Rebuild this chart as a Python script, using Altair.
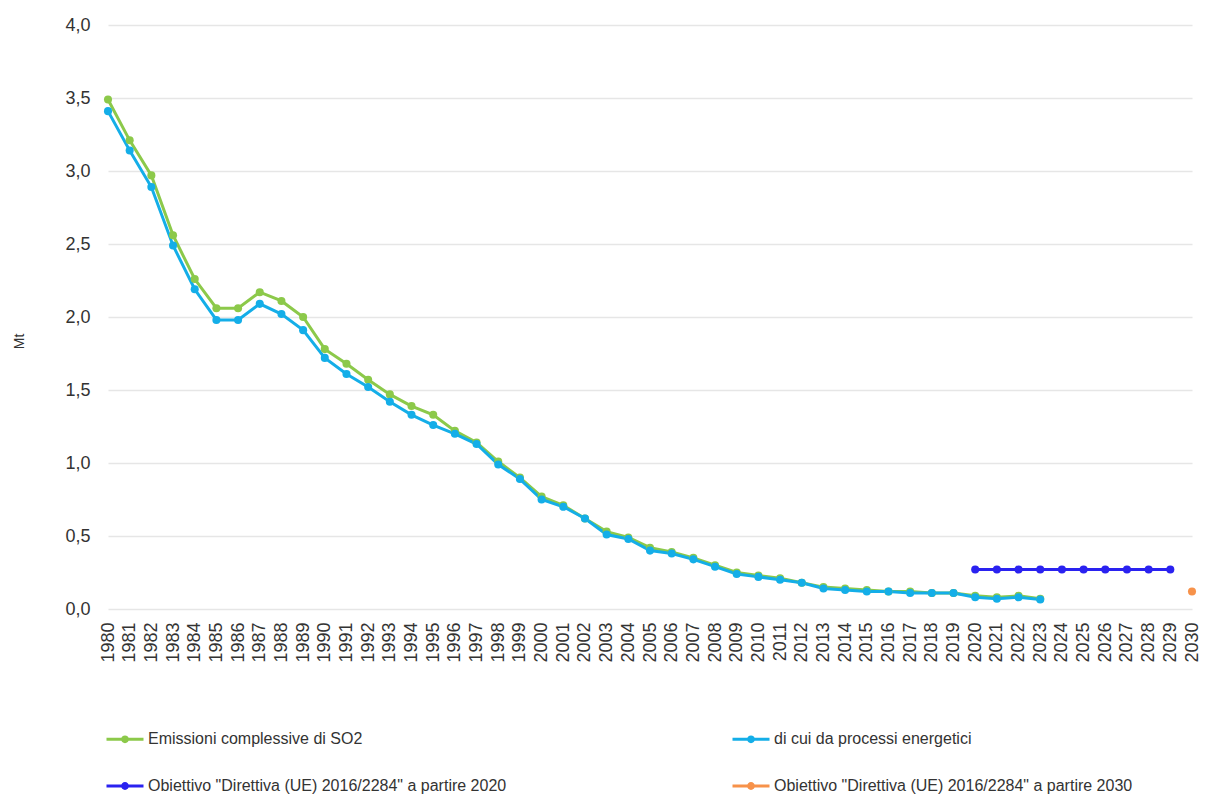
import altair as alt
import pandas as pd

years = [str(y) for y in range(1980, 2031)]

hist_years = [str(y) for y in range(1980, 2024)]
totale = [3.49, 3.21, 2.97, 2.56, 2.26, 2.06, 2.06, 2.17, 2.11, 2.00,
          1.78, 1.68, 1.57, 1.47, 1.39, 1.33, 1.22, 1.14, 1.01, 0.90,
          0.77, 0.71, 0.62, 0.53, 0.49, 0.42, 0.39, 0.35, 0.30, 0.25,
          0.23, 0.21, 0.18, 0.15, 0.14, 0.13, 0.12, 0.12, 0.11, 0.11,
          0.09, 0.08, 0.09, 0.07]
energetici = [3.41, 3.14, 2.89, 2.49, 2.19, 1.98, 1.98, 2.09, 2.02, 1.91,
              1.72, 1.61, 1.52, 1.42, 1.33, 1.26, 1.20, 1.13, 0.99, 0.89,
              0.75, 0.70, 0.62, 0.51, 0.48, 0.40, 0.38, 0.34, 0.29, 0.24,
              0.22, 0.20, 0.18, 0.14, 0.13, 0.12, 0.12, 0.11, 0.11, 0.11,
              0.08, 0.07, 0.08, 0.065]
target2020_years = [str(y) for y in range(2020, 2030)]
target2020 = [0.27, 0.27, 0.27, 0.27, 0.27, 0.27, 0.27, 0.27, 0.27, 0.27]
target2030_years = ["2030"]
target2030 = [0.12]

s_tot = "Emissioni complessive di SO2"
s_en = "di cui da processi energetici"
s_t20 = 'Obiettivo "Direttiva (UE) 2016/2284" a partire 2020'
s_t30 = 'Obiettivo "Direttiva (UE) 2016/2284" a partire 2030'

# legend fills column-wise: order so rows read (tot, en) / (t20, t30)
legend_order = [s_tot, s_t20, s_en, s_t30]
legend_colors = ["#8cc94a", "#2a22f0", "#14aee8", "#f7924a"]

rows = []
for yrs, vals, name in [
    (hist_years, totale, s_tot),
    (hist_years, energetici, s_en),
    (target2020_years, target2020, s_t20),
    (target2030_years, target2030, s_t30),
]:
    for y, v in zip(yrs, vals):
        rows.append({"anno": y, "valore": v, "serie": name})
df = pd.DataFrame(rows)

FONT = "Liberation Sans"
sym_path = ("M-1,0H1 "
            "M0.13,0A0.13,0.13,0,1,1,-0.13,0A0.13,0.13,0,1,1,0.13,0Z")

color = alt.Color(
    "serie:N",
    scale=alt.Scale(domain=legend_order, range=legend_colors),
    legend=alt.Legend(
        title=None,
        orient="none",
        legendX=-3,
        legendY=694,
        columns=2,
        columnPadding=219,
        rowPadding=18,
        symbolType=sym_path,
        symbolSize=1369,
        symbolStrokeWidth=3,
        labelFont=FONT,
        labelFontSize=16,
        labelColor="#333333",
        labelLimit=600,
        labelOffset=3,
    ),
)

x = alt.X(
    "anno:O",
    scale=alt.Scale(domain=years, type="point", padding=0),
    axis=alt.Axis(
        title=None,
        labelAngle=-90,
        labelFont=FONT,
        labelFontSize=18,
        labelColor="#333333",
        labelPadding=13,
        labelOverlap=False,
        ticks=False,
        domain=False,
        grid=False,
    ),
)
y = alt.Y(
    "valore:Q",
    scale=alt.Scale(domain=[0, 4], nice=False),
    axis=alt.Axis(
        title="Mt",
        titleFont=FONT,
        titleFontSize=14,
        titleFontWeight="normal",
        titleColor="#333333",
        titleX=-89,
        titleY=316,
        titleAngle=-90,
        titleAlign="center",
        titleBaseline="middle",
        values=[0, 0.5, 1, 1.5, 2, 2.5, 3, 3.5, 4],
        labelExpr="replace(format(datum.value, '.1f'), '.', ',')",
        labelFont=FONT,
        labelFontSize=18,
        labelColor="#333333",
        labelPadding=18,
        ticks=False,
        domain=False,
        grid=True,
        gridColor="#e6e6e6",
        gridWidth=1.5,
    ),
)

chart = (
    alt.Chart(df)
    .mark_line(strokeWidth=3, point=alt.OverlayMarkDef(filled=True, size=65))
    .encode(x=x, y=y, color=color, detail="serie:N")
    .properties(
        width=1084,
        height=584,
        padding={"left": 100, "top": 17, "right": 8, "bottom": 187},
        autosize=alt.AutoSizeParams(type="none"),
    )
    .configure(background="white")
    .configure_view(strokeWidth=0, stroke="transparent")
)

chart.save("out.html", embed_options={"renderer": "svg", "actions": False})
